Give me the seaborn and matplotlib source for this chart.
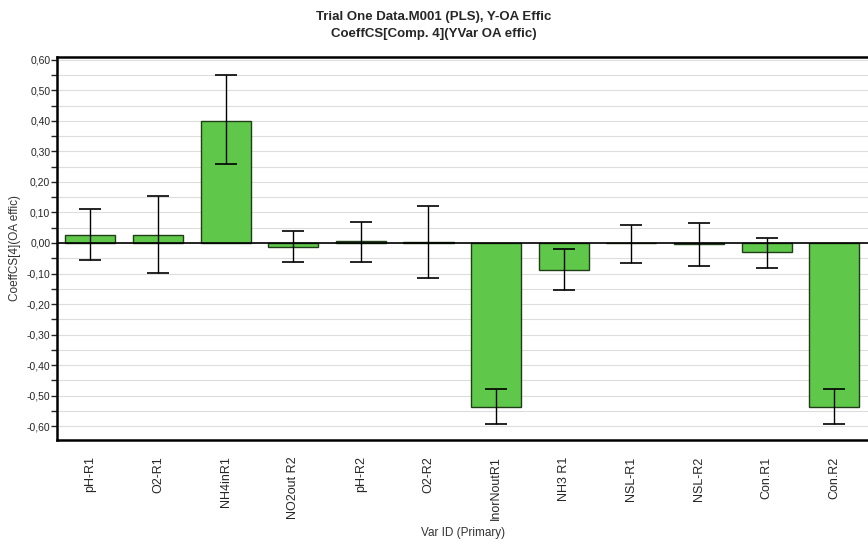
import matplotlib
matplotlib.use("Agg")
import matplotlib.pyplot as plt
from matplotlib.ticker import MultipleLocator, FuncFormatter
import pandas as pd
import seaborn as sns

# Coefficients
var_ids = ["pH-R1", "O2-R1", "NH4inR1", "NO2out R2", "pH-R2", "O2-R2",
           "InorNoutR1", "NH3 R1", "NSL-R1", "NSL-R2", "Con.R1", "Con.R2"]
coeffs = [0.026, 0.026, 0.401, -0.012, 0.006, 0.003,
          -0.537, -0.087, -0.001, -0.003, -0.030, -0.537]
err_centers = [0.028, 0.028, 0.404, -0.011, 0.004, 0.003,
               -0.536, -0.086, -0.002, -0.006, -0.032, -0.536]
err_half = [0.083, 0.126, 0.145, 0.050, 0.066, 0.118,
            0.057, 0.067, 0.062, 0.071, 0.050, 0.057]

df = pd.DataFrame({"var": var_ids, "coef": coeffs})

sns.set_style("white")
plt.rcParams["font.family"] = ["Liberation Sans", "DejaVu Sans"]

fig = plt.figure(figsize=(8.68, 5.47), dpi=100)
ax = fig.add_axes([0.066, 0.196, 0.934, 0.70])

sns.barplot(data=df, x="var", y="coef", order=var_ids, color="#5fc84a",
            width=0.74, edgecolor="#1f3d17", linewidth=1.0, saturation=1,
            ax=ax, zorder=3)

ax.errorbar(range(len(var_ids)), err_centers, yerr=err_half, fmt="none",
            ecolor="black", elinewidth=1.0, capsize=8, capthick=1.2, zorder=4)

ax.axhline(0, color="black", linewidth=1.2, zorder=5)

# Axis range and ticks
ax.set_xlim(-0.49, 11.5)
ax.set_ylim(-0.645, 0.61)
ax.yaxis.set_major_locator(MultipleLocator(0.1))
ax.yaxis.set_minor_locator(MultipleLocator(0.05))
ax.yaxis.set_major_formatter(FuncFormatter(lambda v, p: f"{v:.2f}".replace(".", ",").replace("-0,00", "0,00")))
ax.grid(axis="y", which="both", color="#dddddd", linewidth=0.8, zorder=0)
ax.tick_params(axis="y", which="major", length=4, width=1, labelsize=7.5, left=True, pad=1)
ax.tick_params(axis="y", which="minor", length=4, width=1, left=True)
ax.tick_params(axis="x", length=0, labelsize=9, pad=12)
plt.setp(ax.get_xticklabels(), rotation=90)

for side in ["top", "left", "bottom"]:
    ax.spines[side].set_linewidth(1.8)
    ax.spines[side].set_color("black")
ax.spines["right"].set_visible(False)

# Labels and title
ax.set_xlabel("Var ID (Primary)", fontsize=8.5, color="#333333", labelpad=5)
ax.set_ylabel("CoeffCS[4](OA effic)", fontsize=8.5, color="#333333", labelpad=4)
fig.suptitle("Trial One Data.M001 (PLS), Y-OA Effic\nCoeffCS[Comp. 4](YVar OA effic)",
             fontsize=9.5, fontweight="bold", y=0.98, linespacing=1.6)

plt.savefig("out.png", dpi=100)
